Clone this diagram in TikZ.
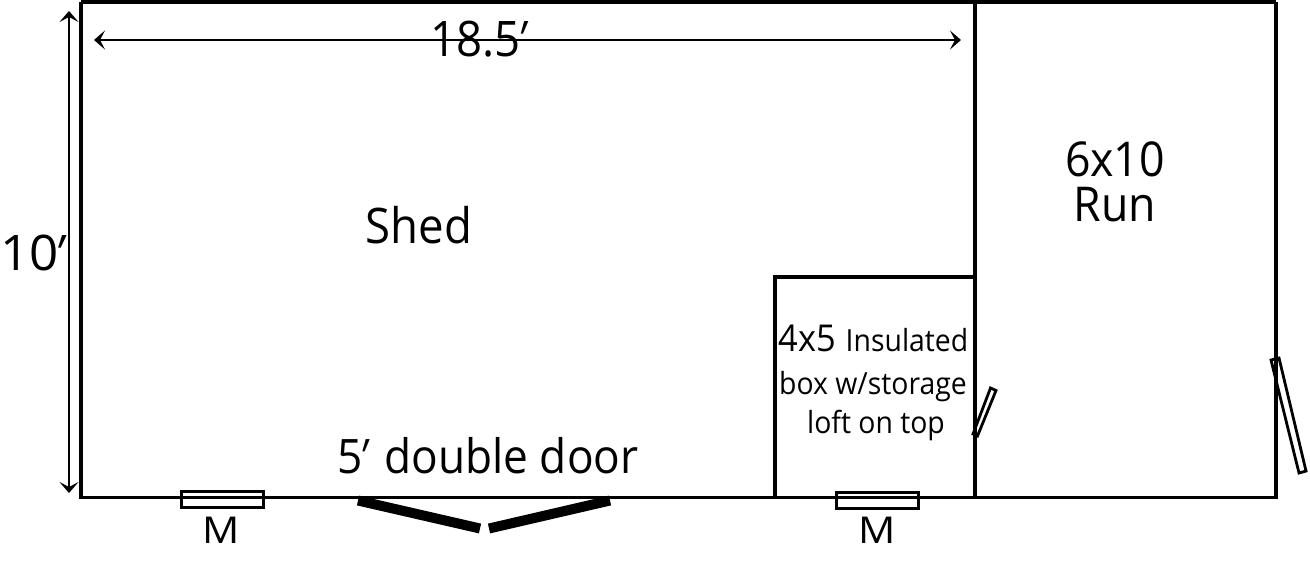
\documentclass[tikz,border=0pt]{standalone}
\usepackage{fontspec}
\usetikzlibrary{arrows.meta}
\setmainfont[FakeStretch=0.93]{Open Sans}
\newcommand{\ftmark}{\kern-.24em{\addfontfeature{FakeSlant=0.35}′}}
\tikzset{
    wall/.style={line width=3.2pt},
    partition/.style={line width=4.4pt},
    flap/.style={line width=2.8pt},
    leaf/.style={line width=10pt},
    dimline/.style={line width=1.6pt,{Stealth[length=11pt,width=19pt,inset=5pt]}-{Stealth[length=11pt,width=19pt,inset=5pt]}},
    lab/.style={inner sep=0pt,align=center,font=\fontsize{#1}{#1}\selectfont},
    windowbox/.style={draw,line width=3pt,minimum width=82pt,minimum height=16pt,inner sep=0pt},
}
\begin{document}
\begin{tikzpicture}[x=1pt,y=-1pt]
    \useasboundingbox (0,0) rectangle (1310,560);
    \coordinate (shedNW) at (81,1.5);
    \coordinate (runNE) at (1276,1.5);
    \coordinate (shedSW) at (81,497.5);
    \coordinate (runSE) at (1276,497.5);
    \coordinate (divN) at (975,0);
    \coordinate (divS) at (975,497);
    \coordinate (boxNW) at (775,277);
    \coordinate (boxNE) at (975,277);
    \coordinate (boxSW) at (775,496);
    % outer walls
    \draw[wall] (shedNW) -- (shedSW) -- (runSE) -- (runNE);
    \draw[line width=4.4pt] (shedNW) -- (runNE);
    \draw[partition] (divN) -- (divS);
    \draw[partition] (boxSW) -- (boxNW) -- (boxNE);
    % dimensions
    \coordinate (dimW) at (94,40);
    \coordinate (dimE) at (961,40);
    \coordinate (dimT) at (69,11);
    \coordinate (dimB) at (69,493);
    \draw[dimline] (dimW) -- (dimE);
    \draw[dimline] (dimT) -- (dimB);
    \node[lab=49] (lenlabel) at (475,39) {18.5\ftmark};
    \node[lab=49,xscale=1.12] (widlabel) at (29,253) {10\ftmark};
    % windows
    \node[windowbox] (winA) at (222,499) {};
    \node[windowbox] (winB) at (877,500) {};
    \node[lab=37,xscale=1.2] (mA) at (221,530) {M};
    \node[lab=37,xscale=1.2] (mB) at (877,530) {M};
    % double door
    \coordinate (doorL) at (358,500.5);
    \coordinate (doorLtip) at (480,528.5);
    \coordinate (doorR) at (610,500.5);
    \coordinate (doorRtip) at (489,528.5);
    \draw[leaf] (doorL) -- (doorLtip);
    \draw[leaf] (doorR) -- (doorRtip);
    % small doors
    \draw[flap] (990.5,388) -- (996,390.5) -- (977.5,436) -- (973,434) -- cycle;
    \draw[flap] (1271,360) -- (1279,358) -- (1306,471) -- (1299,473) -- cycle;
    % labels
    \node[lab=49] (shed) at (419,225) {Shed};
    \node[lab=48] (runsize) at (1115,159) {6x10};
    \node[lab=48] (run) at (1115,205) {Run};
    \node[lab=47.5] (doorlabel) at (488,456) {5\ftmark\ \kern.25em double door};
    \node[lab=37] (boxsize) at (807,338) {4x5};
    \node[lab=30.5] (boxA) at (907,340) {Insulated};
    \node[lab=30.5] (boxB) at (873,387) {box w/storage};
    \node[lab=30.5] (boxC) at (876,425) {loft on top};
\end{tikzpicture}
\end{document}
